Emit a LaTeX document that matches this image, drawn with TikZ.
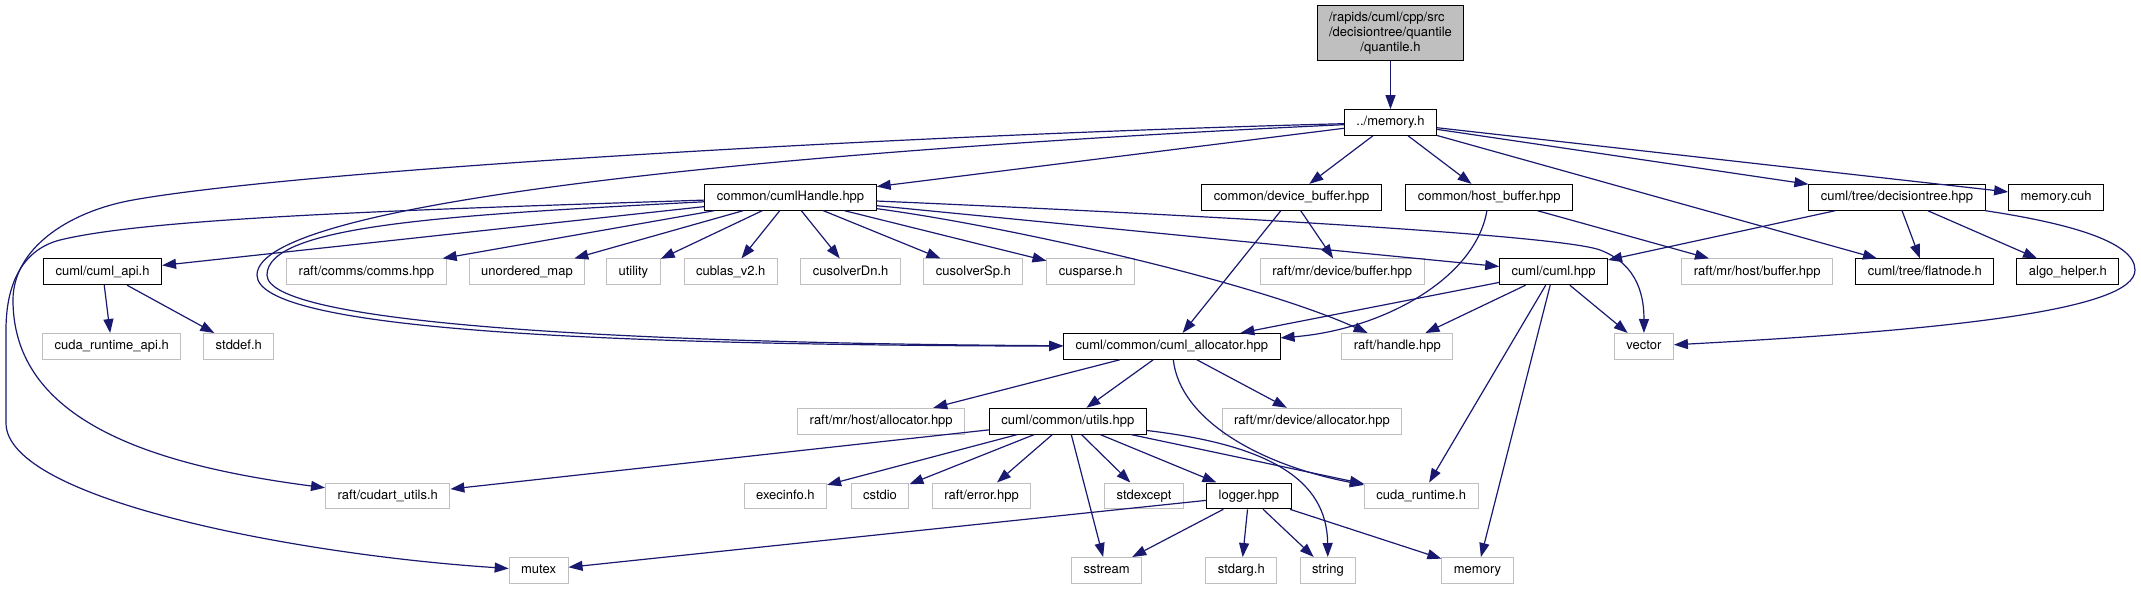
\documentclass[tikz,border=0pt]{standalone}
\usepackage{fontspec}
\setmainfont{TeX Gyre Heros}
\usepackage{tikz}
\usetikzlibrary{arrows.meta}
\definecolor{midblue}{HTML}{191970}
\definecolor{grey75}{HTML}{BFBFBF}

\begin{document}
\begin{tikzpicture}[x={(0.5pt,0pt)}, y={(0pt,-0.5pt)},
    filebox/.style={draw=black, fill=white, line width=0.5pt, inner sep=0pt,
        font=\fontsize{6.5}{7.5}\selectfont},
    hdr/.style={filebox, inner xsep=6pt, minimum height=12.9pt,
        text height=4.7pt, text depth=1.4pt},
    sysh/.style={hdr, draw=grey75},
    dep/.style={draw=midblue, line width=0.6pt, -{Triangle[length=7pt, width=5pt]}}]
    % 1 unit = 1 pixel of the graph, y runs downwards.
    \def\yA{33.2}     % the file itself
    \def\yB{122.5}    % ../memory.h
    \def\yC{197.3}
    \def\yD{271.8}
    \def\yE{346.4}
    \def\yF{421.2}
    \def\yG{495.9}
    \def\yH{570.4}

    \useasboundingbox (0,0) rectangle (2141,589);

    % File and its direct include
    \node[filebox, fill=grey75, minimum width=72.8pt, minimum height=27.5pt] (top) at (1390.5,\yA)
        {\begin{tabular}{@{}l@{}}/rapids/cuml/cpp/src\\/decisiontree/quantile\\\multicolumn{1}{@{}c@{}}{/quantile.h}\end{tabular}};
    \node[hdr] (mem) at (1390.5,\yB) {../memory.h};

    % Second row
    \node[hdr] (hdl) at (790.5,\yC) {common/cumlHandle.hpp};
    \node[hdr] (devbuf) at (1291.6,\yC) {common/device\_buffer.hpp};
    \node[hdr] (hostbuf) at (1489.2,\yC) {common/host\_buffer.hpp};
    \node[hdr] (dtree) at (1897,\yC) {cuml/tree/decisiontree.hpp};
    \node[hdr] (memcuh) at (2056.1,\yC) {memory.cuh};

    % Third row
    \node[hdr] (api) at (102.6,\yD) {cuml/cuml\_api.h};
    \node[sysh] (comms) at (366.4,\yD) {raft/comms/comms.hpp};
    \node[sysh] (umap) at (526.9,\yD) {unordered\_map};
    \node[sysh] (utility) at (633.4,\yD) {utility};
    \node[sysh] (cublas) at (730.7,\yD) {cublas\_v2.h};
    \node[sysh] (solvdn) at (850.6,\yD) {cusolverDn.h};
    \node[sysh] (solvsp) at (973.4,\yD) {cusolverSp.h};
    \node[sysh] (sparse) at (1090.8,\yD) {cusparse.h};
    \node[sysh] (dbuf) at (1342.2,\yD) {raft/mr/device/buffer.hpp};
    \node[hdr] (cumlh) at (1553.6,\yD) {cuml/cuml.hpp};
    \node[sysh] (hbuf) at (1757.2,\yD) {raft/mr/host/buffer.hpp};
    \node[hdr] (flatnode) at (1924.9,\yD) {cuml/tree/flatnode.h};
    \node[hdr] (algo) at (2067.8,\yD) {algo\_helper.h};

    % Fourth row
    \node[sysh] (crapi) at (111.8,\yE) {cuda\_runtime\_api.h};
    \node[sysh] (stddef) at (238.8,\yE) {stddef.h};
    \node[hdr] (alloc) at (1171.8,\yE) {cuml/common/cuml\_allocator.hpp};
    \node[sysh] (handle) at (1397.4,\yE) {raft/handle.hpp};
    \node[sysh] (vector) at (1643.9,\yE) {vector};

    % Fifth row
    \node[sysh] (halloc) at (881.2,\yF) {raft/mr/host/allocator.hpp};
    \node[hdr] (utils) at (1067.8,\yF) {cuml/common/utils.hpp};
    \node[sysh] (dalloc) at (1312,\yF) {raft/mr/device/allocator.hpp};

    % Sixth row
    \node[sysh] (cudartu) at (387.7,\yG) {raft/cudart\_utils.h};
    \node[sysh] (execinfo) at (785.4,\yG) {execinfo.h};
    \node[sysh] (cstdio) at (880,\yG) {cstdio};
    \node[sysh] (error) at (981.5,\yG) {raft/error.hpp};
    \node[sysh] (stdexcept) at (1144,\yG) {stdexcept};
    \node[hdr] (logger) at (1248.9,\yG) {logger.hpp};
    \node[sysh] (cudarth) at (1421.2,\yG) {cuda\_runtime.h};

    % Bottom row
    \node[sysh] (mutex) at (538.6,\yH) {mutex};
    \node[sysh] (sstream) at (1106.6,\yH) {sstream};
    \node[sysh] (stdarg) at (1241.3,\yH) {stdarg.h};
    \node[sysh] (string) at (1327.9,\yH) {string};
    \node[sysh] (memory) at (1477.5,\yH) {memory};

    % quantile.h
    \draw[dep] (top) -- (mem);

    % ../memory.h
    \draw[dep] (mem) -- (hdl);
    \draw[dep] (mem) -- (devbuf);
    \draw[dep] (mem) -- (hostbuf);
    \draw[dep] (mem) -- (dtree);
    \draw[dep] (mem) -- (memcuh);
    \draw[dep] (mem) -- (flatnode);
    \draw[dep] (mem) .. controls (900,135) and (300,170) .. (133,200)
        .. controls (66,212) and (13,250) .. (13,300)
        .. controls (13,420) and (150,465) .. (cudartu);
    \draw[dep] (mem) .. controls (800,150) and (257,200) .. (257,275)
        .. controls (257,330) and (600,345) .. (alloc);

    % common/cumlHandle.hpp
    \draw[dep] (hdl) .. controls (400,210) and (150,218) .. (60,240)
        .. controls (25,249) and (6,280) .. (6,330) -- (6,423)
        .. controls (6,500) and (300,555) .. (mutex);
    \draw[dep] (hdl) .. controls (450,215) and (267,225) .. (267,275)
        .. controls (267,322) and (600,343) .. (alloc);
    \draw[dep] (hdl) -- (api);
    \draw[dep] (hdl) -- (comms);
    \draw[dep] (hdl) -- (umap);
    \draw[dep] (hdl) -- (utility);
    \draw[dep] (hdl) -- (cublas);
    \draw[dep] (hdl) -- (solvdn);
    \draw[dep] (hdl) -- (solvsp);
    \draw[dep] (hdl) -- (sparse);
    \draw[dep] (hdl) .. controls (1000,225) and (1250,280) .. (handle);
    \draw[dep] (hdl) -- (cumlh);
    \draw[dep] (hdl) .. controls (1200,215) and (1560,235) .. (1600,250)
        .. controls (1640,265) and (1644,300) .. (vector);

    % buffers
    \draw[dep] (devbuf) -- (dbuf);
    \draw[dep] (devbuf) -- (alloc);
    \draw[dep] (hostbuf) -- (hbuf);
    \draw[dep] (hostbuf) .. controls (1475,280) and (1380,330) .. (alloc);

    % cuml/tree/decisiontree.hpp
    \draw[dep] (dtree) -- (cumlh);
    \draw[dep] (dtree) -- (flatnode);
    \draw[dep] (dtree) -- (algo);
    \draw[dep] (dtree) .. controls (2060,222) and (2135,240) .. (2135,270)
        .. controls (2135,310) and (1950,330) .. (vector);

    % cuml/cuml.hpp
    \draw[dep] (cumlh) -- (alloc);
    \draw[dep] (cumlh) -- (handle);
    \draw[dep] (cumlh) -- (vector);
    \draw[dep] (cumlh) -- (cudarth);
    \draw[dep] (cumlh) -- (memory);

    % cuml/cuml_api.h
    \draw[dep] (api) -- (crapi);
    \draw[dep] (api) -- (stddef);

    % cuml/common/cuml_allocator.hpp
    \draw[dep] (alloc) -- (halloc);
    \draw[dep] (alloc) -- (utils);
    \draw[dep] (alloc) -- (dalloc);
    \draw[dep] (alloc) .. controls (1180,420) and (1260,465) .. (cudarth);

    % cuml/common/utils.hpp
    \draw[dep] (utils) -- (cudartu);
    \draw[dep] (utils) -- (execinfo);
    \draw[dep] (utils) -- (cstdio);
    \draw[dep] (utils) -- (error);
    \draw[dep] (utils) -- (sstream);
    \draw[dep] (utils) -- (stdexcept);
    \draw[dep] (utils) -- (logger);
    \draw[dep] (utils) -- (cudarth);
    \draw[dep] (utils) .. controls (1270,445) and (1327,480) .. (string);

    % logger.hpp
    \draw[dep] (logger) -- (mutex);
    \draw[dep] (logger) -- (sstream);
    \draw[dep] (logger) -- (stdarg);
    \draw[dep] (logger) -- (string);
    \draw[dep] (logger) -- (memory);
\end{tikzpicture}
\end{document}
